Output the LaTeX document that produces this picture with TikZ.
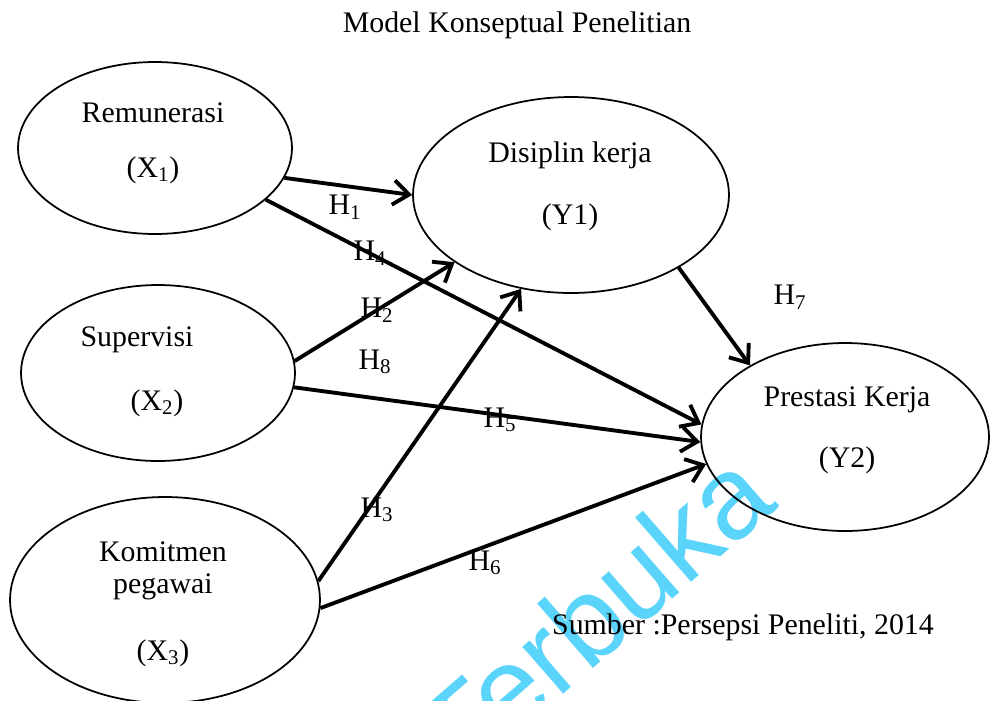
\documentclass[tikz,border=0pt]{standalone}
\usepackage{fontspec}
\setmainfont{Liberation Serif}
\newfontfamily\wmfont{Liberation Sans}
\usetikzlibrary{shapes.geometric, arrows.meta, positioning}
\definecolor{wmcyan}{RGB}{90,212,250}

\begin{document}
\begin{tikzpicture}[x=0.02cm, y=-0.02cm,
 var/.style={draw, ellipse, line width=1pt, inner sep=0pt},
 txt/.style={font=\fontsize{17}{20}\selectfont, inner sep=1pt},
 hyp/.style={line width=2.2pt, -{Straight Barb[length=9pt, width=14pt]}}]
 \useasboundingbox (0,0) rectangle (990,700);
 \begin{scope}
  \clip (0,0) rectangle (990,700);
  \node[text=wmcyan, font=\wmfont\fontsize{67}{67}\selectfont, rotate=41] (watermark) at (594,612){Terbuka};
 \end{scope}
 \node[txt] (title) at (517,25){Model Konseptual Penelitian};
 \node[var, minimum width=5.48cm, minimum height=3.44cm] (remun) at (155,148){};
 \node[var, minimum width=5.48cm, minimum height=3.52cm] (superv) at (158,373){};
 \node[var, minimum width=6.2cm, minimum height=4.12cm] (komit) at (165,600){};
 \node[var, minimum width=6.32cm, minimum height=3.92cm] (disiplin) at (571,195){};
 \node[var, minimum width=5.76cm, minimum height=3.76cm] (prestasi) at (845,437){};
 \node[txt] (remun-name) at (153,113){Remunerasi};
 \node[txt] (remun-code) at (153,170){(X\textsubscript{1})};
 \node[txt] (superv-name) at (137,340){Supervisi};
 \node[txt] (superv-code) at (157,403){(X\textsubscript{2})};
 \node[txt] (komit-name) at (163,552){Komitmen};
 \node[txt] (komit-name2) at (163,587){pegawai};
 \node[txt] (komit-code) at (163,653){(X\textsubscript{3})};
 \node[txt] (disiplin-name) at (570,155){Disiplin kerja};
 \node[txt] (disiplin-code) at (570,217){(Y1)};
 \node[txt] (prestasi-name) at (847,400){Prestasi Kerja};
 \node[txt] (prestasi-code) at (847,460){(Y2)};
 \draw[hyp] (remun.-13) -- (disiplin.180);
 \draw[hyp] (remun.-25) -- (prestasi.175);
 \draw[hyp] (superv.5) -- (disiplin.-150);
 \draw[hyp] (superv.-6) -- (prestasi.-178);
 \draw[hyp] (komit.7) -- (disiplin.-118);
 \draw[hyp] (komit.-3) -- (prestasi.-169);
 \draw[hyp] (disiplin.-34) -- (prestasi.143);
 \node[txt] (h1) at (345,207){H\textsubscript{1}};
 \node[txt] (h4) at (370,253){H\textsubscript{4}};
 \node[txt] (h2) at (377,310){H\textsubscript{2}};
 \node[txt] (h8) at (375,362){H\textsubscript{8}};
 \node[txt] (h5) at (500,420){H\textsubscript{5}};
 \node[txt] (h3) at (377,510){H\textsubscript{3}};
 \node[txt] (h6) at (485,563){H\textsubscript{6}};
 \node[txt] (h7) at (790,297){H\textsubscript{7}};
 \node[txt] (source) at (743,627){Sumber :Persepsi Peneliti, 2014};
\end{tikzpicture}
\end{document}
